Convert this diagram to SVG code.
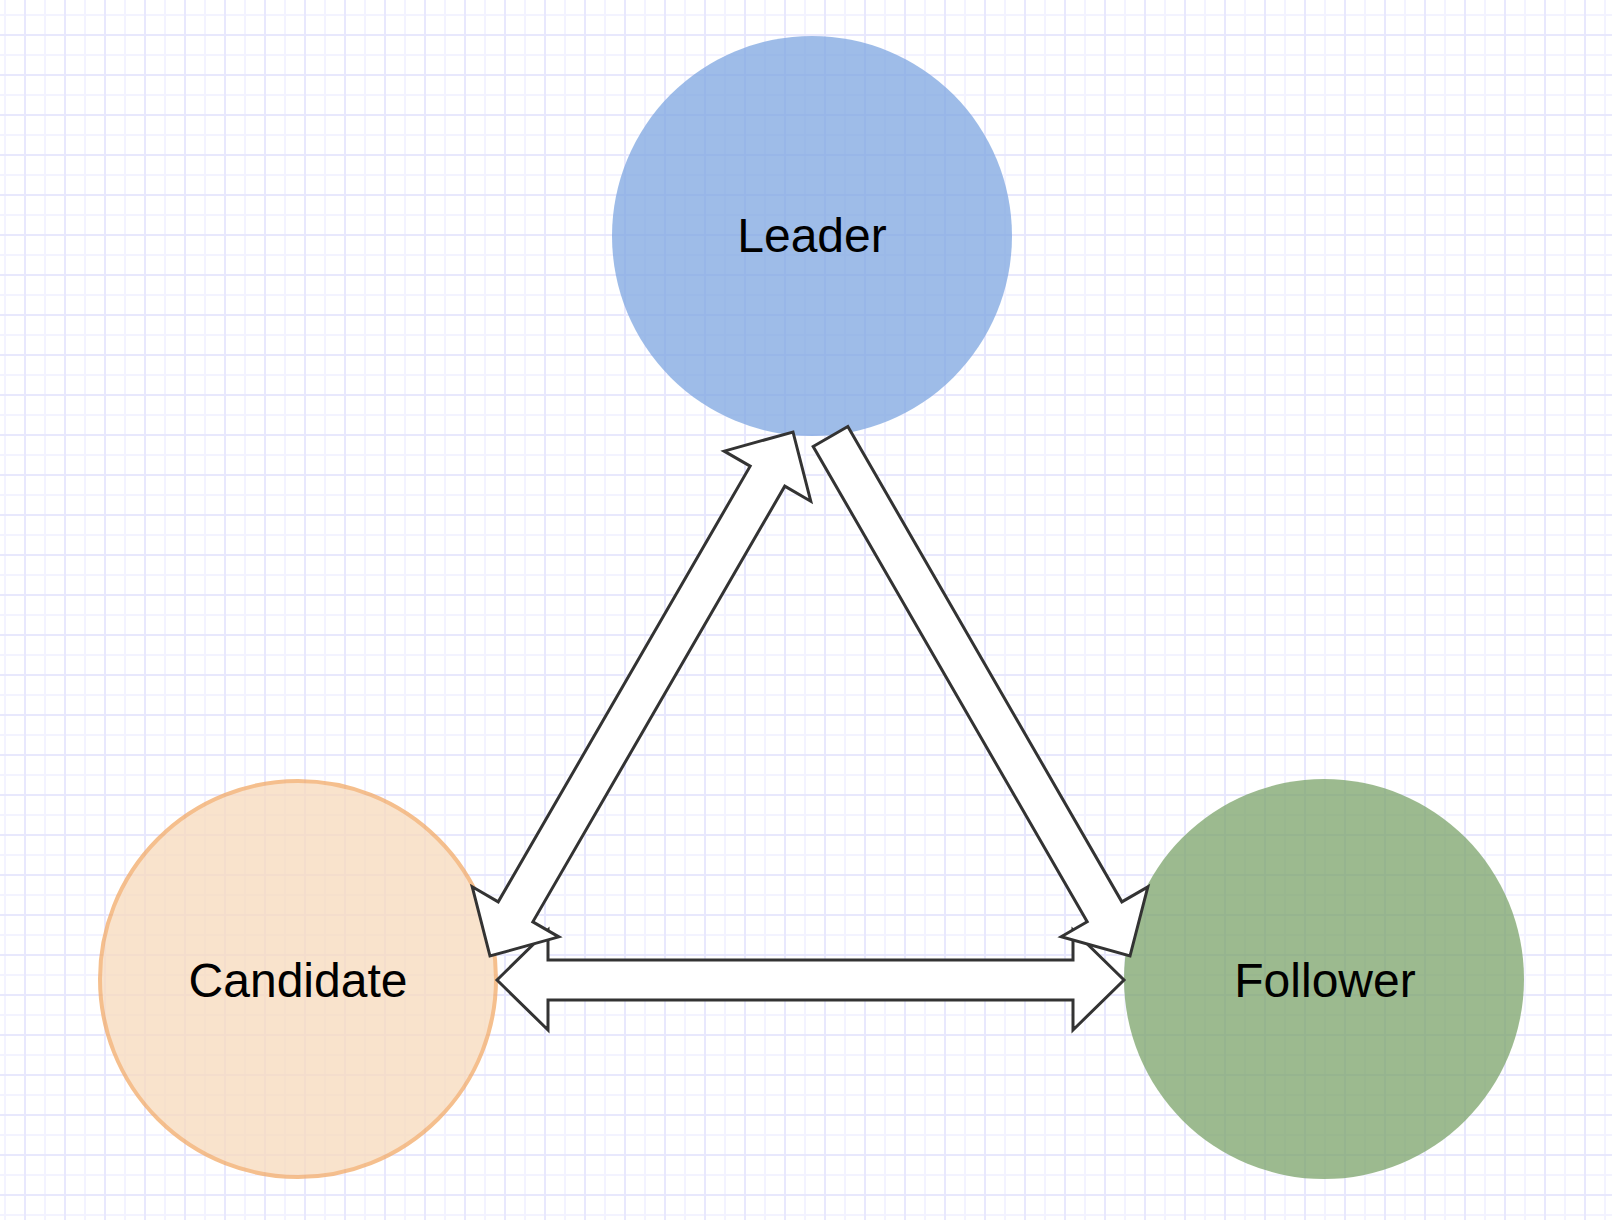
<svg xmlns="http://www.w3.org/2000/svg" width="1612" height="1220" viewBox="0 0 1612 1220">
  <defs>
    <pattern id="grid" x="0" y="0" width="40" height="40" patternUnits="userSpaceOnUse">
      <line x1="5" y1="0" x2="5" y2="40" stroke="#F3F3FF" stroke-width="2"/>
      <line x1="0" y1="15" x2="40" y2="15" stroke="#F3F3FF" stroke-width="2"/>
      <line x1="25" y1="0" x2="25" y2="40" stroke="#E8E8FD" stroke-width="2"/>
      <line x1="0" y1="35" x2="40" y2="35" stroke="#E8E8FD" stroke-width="2"/>
    </pattern>
    <style>
      .label { font-family: "Liberation Sans", Arial, sans-serif; font-size: 48px; fill: #000000; text-anchor: middle; }
      .arrow { fill: #FFFFFF; stroke: #333333; stroke-width: 3; stroke-linejoin: miter; stroke-miterlimit: 10; }
    </style>
  </defs>

  <rect x="0" y="0" width="1612" height="1220" fill="#FFFFFF"/>
  <rect x="0" y="0" width="1612" height="1220" fill="url(#grid)"/>

  <g id="node-leader">
    <circle cx="812" cy="236" r="200" fill="#7EA6E0" opacity="0.75"/>
    <text class="label" x="812" y="252">Leader</text>
  </g>

  <g id="node-candidate">
    <circle cx="298" cy="979" r="198" fill="#F8DABC" stroke="#F2AA68" stroke-width="4" opacity="0.75"/>
    <text class="label" x="298" y="997">Candidate</text>
  </g>

  <g id="node-follower">
    <circle cx="1324" cy="979" r="200" fill="#7BA36A" opacity="0.75"/>
    <text class="label" x="1325" y="997">Follower</text>
  </g>

  <g id="connectors">
    <polygon id="edge-candidate-follower" class="arrow" points="497,980 548,930 548,960 1073,960 1073,930 1124,980 1073,1030 1073,1000 548,1000 548,1030"/>
    <polygon id="edge-leader-candidate" class="arrow" points="793,432 810.76,501.18 784.78,486.16 532.84,921.86 558.82,936.88 490,956 472.24,886.82 498.22,901.84 750.16,466.14 724.18,451.12"/>
    <polygon id="edge-leader-follower" class="arrow" points="847.83,426.51 1121.86,901.83 1147.85,886.85 1130,956 1061.21,936.79 1087.2,921.81 813.17,446.49"/>
  </g>
</svg>
